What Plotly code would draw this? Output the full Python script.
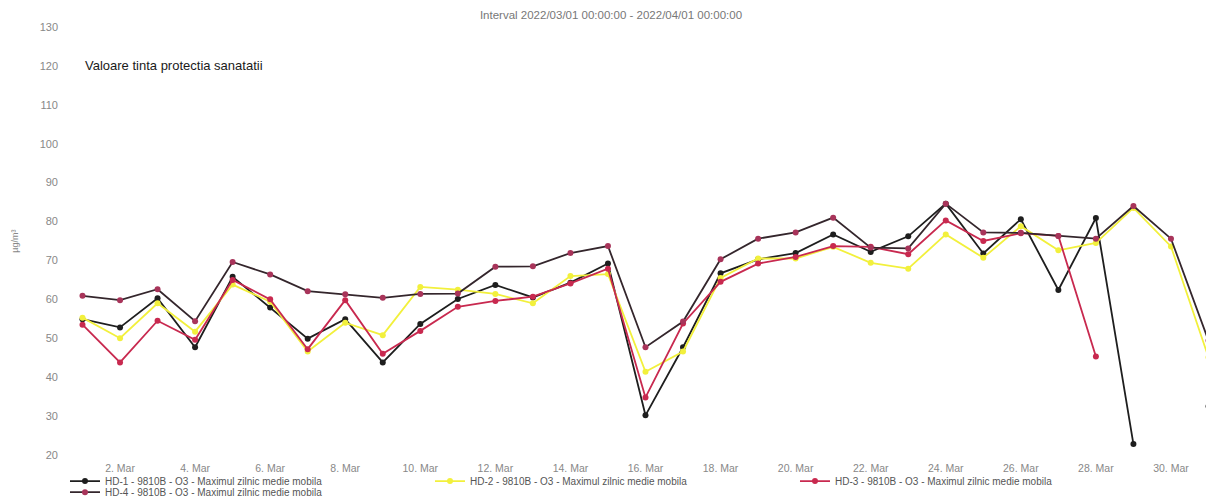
import plotly.graph_objects as go
import pandas as pd

dates = pd.date_range("2022-03-01", "2022-03-31", freq="D")

hd1 = [54.9, 52.8, 60.3, 47.7, 65.8, 57.9, 49.9, 54.9, 43.8, 53.7, 60.1, 63.7, 60.5, 64.3, 69.2, 30.2,
       47.7, 66.7, 70.3, 71.9, 76.7, 72.2, 76.2, 84.6, 71.8, 80.6, 62.4, 80.9, 22.8, None, 32.5]
hd2 = [55.3, 50.0, 59.0, 51.7, 63.8, 59.4, 46.6, 54.0, 50.8, 63.2, 62.5, 61.4, 59.0, 66.0, 66.5, 41.4,
       46.6, 65.5, 70.5, 70.5, 73.5, 69.4, 67.9, 76.7, 70.7, 78.8, 72.6, 74.5, 83.5, 73.6, 45.1]
hd3 = [53.5, 43.8, 54.5, 49.6, 65.0, 60.0, 47.2, 59.8, 46.0, 51.9, 58.1, 59.6, 60.7, 64.1, 67.9, 34.8,
       53.8, 64.5, 69.2, 70.9, 73.7, 73.5, 71.6, 80.3, 75.0, 77.0, 76.3, 45.3, None, None, None]
hd4 = [60.9, 59.8, 62.6, 54.4, 69.6, 66.4, 62.1, 61.3, 60.4, 61.4, 61.5, 68.4, 68.5, 71.9, 73.7, 47.7,
       54.3, 70.3, 75.6, 77.2, 81.0, 73.3, 73.1, 84.6, 77.2, 77.1, 76.3, 75.6, 84.0, 75.6, 49.4]

names = [
    "HD-1 - 9810B - O3 - Maximul zilnic medie mobila",
    "HD-2 - 9810B - O3 - Maximul zilnic medie mobila",
    "HD-3 - 9810B - O3 - Maximul zilnic medie mobila",
    "HD-4 - 9810B - O3 - Maximul zilnic medie mobila",
]
series = [hd1, hd2, hd3, hd4]
line_colors = ["#1e1e1e", "#f2f03c", "#c8294f", "#34262c"]
marker_colors = ["#1e1e1e", "#f2f03c", "#c8294f", "#a8345a"]
legend_ids = ["legend", "legend", "legend", "legend2"]

target_value = 120
target_label = "Valoare tinta protectia sanatatii"
title_text = "Interval 2022/03/01 00:00:00 - 2022/04/01 00:00:00"
y_unit = "µg/m³"

FONT = "Liberation Sans, Arial, sans-serif"

# the page body adds an 8px offset, so the figure is 8px smaller than the window
W, H = 1206, 494

fig = go.Figure()
for name, vals, lc, mc, lg in zip(names, series, line_colors, marker_colors, legend_ids):
    fig.add_trace(go.Scatter(
        x=dates, y=vals, name=name, mode="lines+markers",
        line=dict(color=lc, width=1.8),
        marker=dict(color=mc, size=6, symbol="circle"),
        connectgaps=False, legend=lg,
    ))

fig.add_annotation(
    x=0.018, xref="paper", y=target_value, yref="y",
    text=target_label, showarrow=False, xanchor="left", yanchor="middle",
    font=dict(family=FONT, size=13, color="#1a1a1a"),
)
fig.add_annotation(
    x=-0.041, xref="paper", y=0.5, yref="paper",
    text=y_unit, showarrow=False, textangle=-90, xanchor="center", yanchor="middle",
    font=dict(family=FONT, size=9, color="#888888"),
)

legend_common = dict(
    orientation="h", x=0.0026, xanchor="left", yanchor="top",
    entrywidth=320, entrywidthmode="pixels", itemwidth=30,
    font=dict(family=FONT, size=10, color="#555555"),
    bgcolor="rgba(0,0,0,0)", tracegroupgap=0,
)

fig.update_layout(
    width=W, height=H,
    paper_bgcolor="white", plot_bgcolor="white",
    margin=dict(l=54, r=0, t=19, b=47, autoexpand=False),
    title=dict(text=title_text, x=0.5, xanchor="center", y=0.986, yanchor="middle",
               font=dict(family=FONT, size=11.5, color="#777777")),
    font=dict(family=FONT, size=10, color="#777777"),
    showlegend=True,
    legend=dict(y=-0.027, **legend_common),
    legend2=dict(y=-0.053, **legend_common),
    xaxis=dict(
        type="date",
        range=["2022-02-28 10:54", "2022-03-31 03:31"],
        tick0="2022-03-02", dtick=2 * 86400000,
        tickformat="%-d. %b",
        showgrid=False, zeroline=False, showline=False, ticks="",
        tickfont=dict(family=FONT, size=10.5, color="#888888"),
        ticklabelstandoff=5,
    ),
    yaxis=dict(
        range=[20, 130], tick0=20, dtick=10,
        showgrid=False, zeroline=False, showline=False, ticks="",
        tickfont=dict(family=FONT, size=11, color="#888888"),
        ticklabelstandoff=3,
    ),
)

fig.write_html("out.html")
